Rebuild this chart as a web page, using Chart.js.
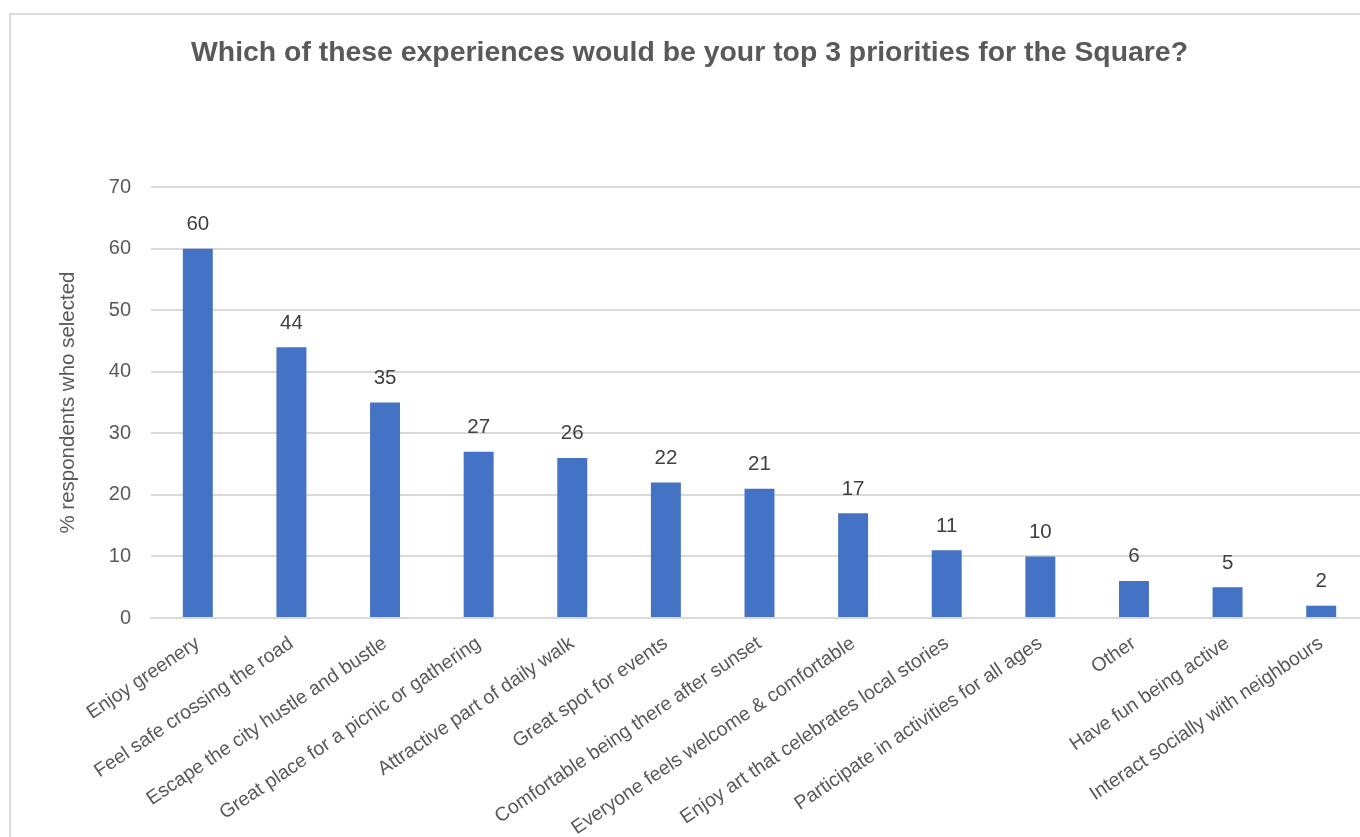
<!DOCTYPE html>
<html>
<head>
<meta charset="utf-8">
<script src="https://cdn.jsdelivr.net/npm/chart.js@4"></script>
<style>
  html, body { margin: 0; padding: 0; background: #fff; overflow: hidden; }
  #frame {
    position: absolute; left: 9px; top: 13px;
    width: 1390px; height: 840px;
    border-left: 2px solid #d9d9d9; border-top: 2px solid #d9d9d9;
  }
  #chart { display: block; }
</style>
</head>
<body>
<div id="frame"><canvas id="chart" width="1357" height="822"></canvas></div>
<script>
// chart data
const categories = [
    'Enjoy greenery',
    'Feel safe crossing the road',
    'Escape the city hustle and bustle',
    'Great place for a picnic or gathering',
    'Attractive part of daily walk',
    'Great spot for events',
    'Comfortable being there after sunset',
    'Everyone feels welcome & comfortable',
    'Enjoy art that celebrates local stories',
    'Participate in activities for all ages',
    'Other',
    'Have fun being active',
    'Interact socially with neighbours'
];
const percentSelected = [60, 44, 35, 27, 26, 22, 21, 17, 11, 10, 6, 5, 2];
const yTicks = [0, 10, 20, 30, 40, 50, 60, 70];

const FONT = "'Liberation Sans', Arial, sans-serif";

// draws the value above each bar
const valueLabels = {
    id: 'valueLabels',
    afterDatasetsDraw(chart) {
        const ctx = chart.ctx;
        const meta = chart.getDatasetMeta(0);
        ctx.save();
        ctx.font = '20.5px ' + FONT;
        ctx.fillStyle = '#404040';
        ctx.textAlign = 'center';
        ctx.textBaseline = 'bottom';
        meta.data.forEach((bar, i) => {
            ctx.fillText(String(percentSelected[i]), bar.x, bar.y - 14);
        });
        ctx.restore();
    }
};

new Chart(document.getElementById('chart'), {
    type: 'bar',
    data: {
        labels: categories,
        datasets: [{
            data: percentSelected,
            backgroundColor: '#4472C4',
            borderWidth: 0,
            categoryPercentage: 1,
            barPercentage: 0.32
        }]
    },
    options: {
        responsive: false,
        animation: false,
        layout: { padding: 0 },
        plugins: {
            legend: { display: false },
            tooltip: { enabled: false },
            title: {
                display: true,
                text: 'Which of these experiences would be your top 3 priorities for the Square?',
                color: '#595959',
                font: { family: FONT, size: 28.4, weight: 'bold' },
                padding: { top: 21, bottom: 117 }
            }
        },
        scales: {
            x: {
                grid: { display: false },
                border: { color: '#d9d9d9', width: 2 },
                ticks: {
                    color: '#595959',
                    font: { family: FONT, size: 19.5 },
                    maxRotation: 34,
                    minRotation: 34,
                    autoSkip: false,
                    padding: 6
                },
                afterFit(scale) { scale.height = 219; }
            },
            y: {
                min: 0,
                max: 70,
                afterBuildTicks(scale) {
                    scale.ticks = yTicks.map(v => ({ value: v }));
                },
                grid: { color: '#d9d9d9', lineWidth: 2, drawTicks: false },
                border: { display: false },
                ticks: {
                    color: '#595959',
                    font: { family: FONT, size: 20 },
                    padding: 20
                },
                title: {
                    display: true,
                    text: '% respondents who selected',
                    color: '#595959',
                    font: { family: FONT, size: 20.5 },
                    padding: { top: 45, bottom: 0 }
                },
                afterFit(scale) { scale.width = 140; }
            }
        }
    },
    plugins: [valueLabels]
});
</script>
</body>
</html>
